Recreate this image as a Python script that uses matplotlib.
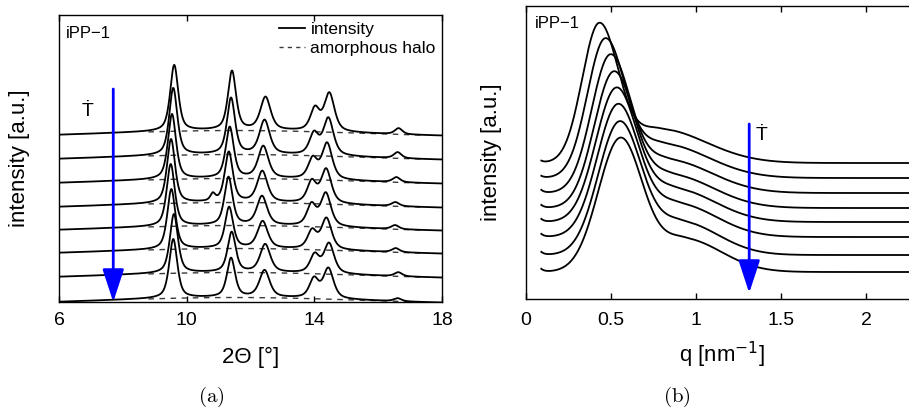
import numpy as np
import matplotlib
matplotlib.use('Agg')
import matplotlib.pyplot as plt
from matplotlib.lines import Line2D

plt.rcParams['font.family'] = ['Liberation Sans', 'DejaVu Sans']

# ---- (a) WAXS: 2theta patterns, 8 temperatures (top -> bottom) ----
waxs_offset = [164.5, 140.5, 116.5, 92.5, 69.5, 46.5, 22.5, -2.5]
waxs_shift = [0.02, -0.01, -0.05, -0.08, -0.09, -0.07, 0.01, -0.01]
peak_pos = [9.59, 10.9, 11.40, 12.45, 14.0, 14.45, 16.62]
peak_hwhm = [0.15, 0.09, 0.15, 0.19, 0.17, 0.19, 0.14]
peak_height = [
    [66, 0, 59, 33, 22, 38, 6],
    [67, 0, 56, 34, 21, 37, 6],
    [65, 0, 51, 32, 20, 36, 5],
    [64, 7, 50, 31, 21, 34, 4],
    [62, 0, 48, 29, 21, 33, 4],
    [60, 0, 41, 27, 18, 31, 4],
    [59, 0, 40, 28, 18, 30, 4],
    [59, 0, 39, 27, 19, 30, 3],
]
halo_center = 11.5
halo_sigma = 4.0
halo_height = 7.0

# ---- (b) SAXS: q curves, 8 temperatures (top -> bottom) ----
saxs_base = [136, 121, 106, 91, 77, 62, 44, 27]
saxs_q0 = [0.43, 0.465, 0.495, 0.515, 0.53, 0.54, 0.55, 0.555]
saxs_amp = [138, 137, 136, 134, 132, 131, 132, 133]
saxs_sl = [0.10, 0.105, 0.11, 0.115, 0.12, 0.122, 0.126, 0.13]
saxs_sr = [0.113, 0.115, 0.118, 0.12, 0.122, 0.125, 0.128, 0.13]
shoulder_q = [0.78, 0.80, 0.83, 0.85, 0.87, 0.89, 0.91, 0.93]
shoulder_h = [34, 34, 33, 33, 33, 33, 33, 33]
shoulder_sl = [0.15, 0.15, 0.15, 0.15, 0.15, 0.15, 0.15, 0.15]
shoulder_sr = [0.28, 0.27, 0.26, 0.25, 0.24, 0.23, 0.22, 0.22]
upturn = [2, 2, 3, 3, 3, 3, 3, 3]


def pvoigt(x, x0, h, w):
    # pseudo-voigt peak, 60% lorentz
    d = ((x - x0) / w) ** 2
    return h * (0.6 / (1 + d) + 0.4 * np.exp(-np.log(2) * d))


def halo(x):
    return halo_height * np.exp(-(x - halo_center) ** 2 / (2 * halo_sigma ** 2))


def asym_gauss(q, q0, h, sl, sr):
    s = np.where(q < q0, sl, sr)
    return h * np.exp(-(q - q0) ** 2 / (2 * s ** 2))


fig = plt.figure(figsize=(9.09, 4.11), dpi=100)
ax1 = fig.add_axes([59 / 909, 109 / 411, 383 / 909, 287 / 411])
ax2 = fig.add_axes([526 / 909, 112 / 411, 385 / 909, 293 / 411])

# left panel
x = np.linspace(6, 18, 3000)
xh = np.linspace(8.8, 17.5, 400)
for i in range(len(waxs_offset)):
    y = waxs_offset[i] + halo(x)
    for p, w, h in zip(peak_pos, peak_hwhm, peak_height[i]):
        if h > 0:
            y = y + pvoigt(x, p + waxs_shift[i], h, w)
    ax1.plot(x, y, color='black', lw=1.3, zorder=3)
    ax1.plot(xh, waxs_offset[i] + halo(xh), color='#3a3a3a', lw=1.0,
             dashes=(4, 4), zorder=2)

ax1.set_xlim(6, 18)
ax1.set_ylim(0, 287)
ax1.set_xticks([6, 10, 14, 18])
ax1.set_yticks([])
ax1.tick_params(axis='x', direction='in', top=True, length=4, width=1,
                labelsize=14, pad=7)
for s in ax1.spines.values():
    s.set_linewidth(1.0)
ax1.set_xlabel('2Θ [°]', fontsize=16, va='center')
ax1.xaxis.set_label_coords(0.5, -0.192)
ax1.set_ylabel('intensity [a.u.]', fontsize=16, va='center')
ax1.yaxis.set_label_coords(-0.102, 0.5)
ax1.text(0.018, 0.937, 'iPP−1', transform=ax1.transAxes, fontsize=12,
         va='center', ha='left')
ax1.text(6.88, 190, 'Ṫ', fontsize=14, ha='center', va='center')
ax1.annotate('', xy=(7.7, 0), xytext=(7.7, 213),
             arrowprops=dict(arrowstyle='-|>,head_length=0.67,head_width=0.22',
                             color='blue', lw=2, mutation_scale=30,
                             shrinkA=0, shrinkB=0), zorder=5)
handles = [Line2D([], [], color='black', lw=1.3),
           Line2D([], [], color='#3a3a3a', lw=1.0, dashes=(3, 3))]
ax1.legend(handles, ['intensity', 'amorphous halo'], loc='upper left',
           bbox_to_anchor=(0.575, 0.975), frameon=False, fontsize=12.5,
           handlelength=1.5, handletextpad=0.3, labelspacing=0.2,
           borderpad=0, borderaxespad=0)

# right panel
q = np.linspace(0.09, 2.265, 1500)
for i in range(len(saxs_base)):
    y = (saxs_base[i]
         + asym_gauss(q, saxs_q0[i], saxs_amp[i], saxs_sl[i], saxs_sr[i])
         + asym_gauss(q, shoulder_q[i], shoulder_h[i], shoulder_sl[i], shoulder_sr[i])
         + upturn[i] * np.exp(-(q - 0.09) / 0.02))
    ax2.plot(q, y, color='black', lw=1.3, zorder=3)

ax2.set_xlim(0, 385 / 170)
ax2.set_ylim(0, 293)
ax2.set_xticks([0, 0.5, 1, 1.5, 2])
ax2.set_xticklabels(['0', '0.5', '1', '1.5', '2'])
ax2.set_yticks([])
ax2.tick_params(axis='x', direction='in', top=True, length=4, width=1,
                labelsize=14, pad=9)
for s in ax2.spines.values():
    s.set_linewidth(1.0)
ax2.set_xlabel(r'q [nm$^{-1}$]', fontsize=16, va='center')
ax2.xaxis.set_label_coords(0.51, -0.19)
ax2.set_ylabel('intensity [a.u.]', fontsize=16, va='center')
ax2.yaxis.set_label_coords(-0.089, 0.5)
ax2.text(0.0235, 0.939, 'iPP−1', transform=ax2.transAxes, fontsize=12,
         va='center', ha='left')
ax2.text(1.386, 164, 'Ṫ', fontsize=14, ha='center', va='center')
ax2.annotate('', xy=(1.313, 6), xytext=(1.313, 175),
             arrowprops=dict(arrowstyle='-|>,head_length=0.67,head_width=0.22',
                             color='blue', lw=2, mutation_scale=30,
                             shrinkA=0, shrinkB=0), zorder=5)

# sub-captions
fig.text(211 / 909, 1 - 397 / 411, r'$\mathrm{(a)}$', math_fontfamily='cm',
         fontsize=15, ha='center', va='center')
fig.text(677 / 909, 1 - 397 / 411, r'$\mathrm{(b)}$', math_fontfamily='cm',
         fontsize=15, ha='center', va='center')

fig.savefig('out.png', dpi=100)
